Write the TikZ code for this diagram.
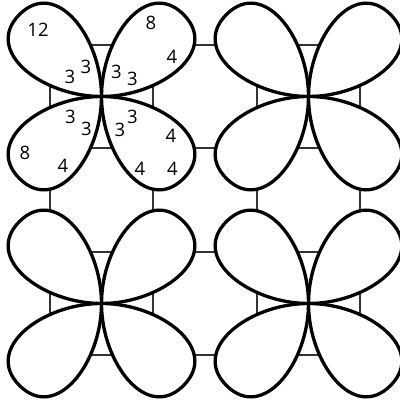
\documentclass[tikz,border=0pt]{standalone}
\usepackage{fontspec}
\setmainfont{Open Sans}
\tikzset{
  petalline/.style={line width=3.3pt, draw=black, fill=white, line join=round},
  gridline/.style={line width=1.6pt, draw=black!80},
  num/.style={font=\fontsize{18.5}{18.5}\selectfont, inner sep=0pt, text=black},
  petal/.pic={\filldraw[petalline] (0,0) .. controls (42,42) and (116,52) .. (116,0)
      .. controls (116,-52) and (42,-42) .. (0,0) -- cycle;},
  flower/.pic={
    \pic[rotate=45]  {petal};
    \pic[rotate=135] {petal};
    \pic[rotate=225] {petal};
    \pic[rotate=315] {petal};
  }
}
\begin{document}
\begin{tikzpicture}[x=1pt,y=1pt]
\useasboundingbox (0,0) rectangle (400,400);
% background grid
\foreach \gx in {50,153,257,360} \draw[gridline] (\gx,45) -- (\gx,355);
\foreach \gy in {45,148,252,355} \draw[gridline] (50,\gy) -- (360,\gy);
% flower centres
\coordinate (ctl) at (101.5,303.5);
\coordinate (ctr) at (308.5,303.5);
\coordinate (cbl) at (101.5,96.5);
\coordinate (cbr) at (308.5,96.5);
\pic at (ctl) {flower};
\pic at (ctr) {flower};
\pic at (cbl) {flower};
\pic at (cbr) {flower};
% numbers
\node[num] (n12) at (38,370) {12};
\node[num] (nA8) at (151,377) {8};
\node[num] (nA4) at (172,343) {4};
\node[num] (nA3a) at (86,333) {3};
\node[num] (nA3b) at (70,323) {3};
\node[num] (nA3c) at (116.5,328) {3};
\node[num] (nA3d) at (132.5,321) {3};
\node[num] (nB3a) at (70.5,283) {3};
\node[num] (nB3b) at (86.5,271) {3};
\node[num] (nB8) at (25,247) {8};
\node[num] (nB4) at (63,234) {4};
\node[num] (nC3a) at (132.5,283.5) {3};
\node[num] (nC3b) at (120,270) {3};
\node[num] (nC4a) at (171,264.5) {4};
\node[num] (nC4b) at (140,231.5) {4};
\node[num] (nC4c) at (172.5,231.5) {4};
\end{tikzpicture}
\end{document}
